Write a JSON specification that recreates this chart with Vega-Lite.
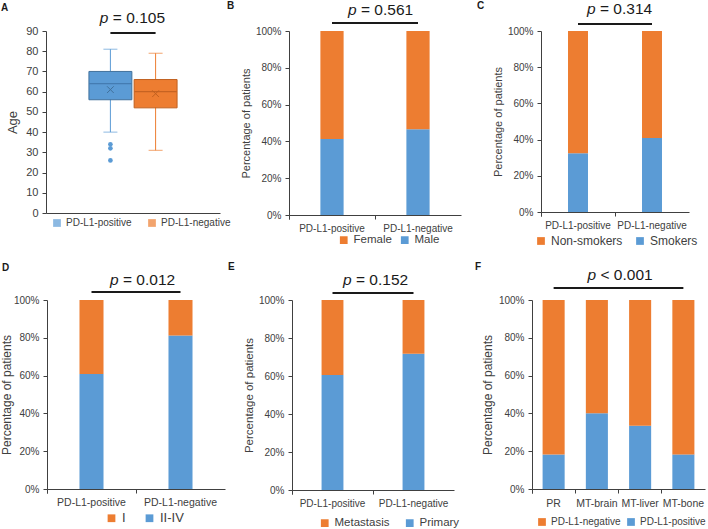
{
  "$schema": "https://vega.github.io/schema/vega-lite/v6.json",
  "padding": {"left": 0, "top": 1, "right": 0, "bottom": 0},
  "autosize": {"type": "pad"},
  "bounds": "flush",
  "spacing": 269,
  "config": {
    "font": "Liberation Sans",
    "view": {"stroke": null},
    "axis": {"domainColor": "#404040", "tickColor": "#404040", "labelColor": "#404040", "titleColor": "#404040", "grid": false, "titleFontWeight": "normal", "tickSize": 4, "labelOverlap": false},
    "axisY": {"labelPadding": 4},
    "legend": {"symbolType": "square", "symbolSize": 60, "symbolStrokeWidth": 0, "labelColor": "#404040", "padding": 0, "labelOffset": 4}
  },
  "resolve": {"scale": {"color": "independent", "fill": "independent", "stroke": "independent"}},
  "vconcat": [
    {
      "spacing": 0,
      "bounds": "flush",
      "resolve": {"scale": {"color": "independent", "fill": "independent", "stroke": "independent"}},
      "hconcat": [
        {
          "width": 174,
          "height": 182,
          "layer": [
            {
              "data": {"values": [
                {"group": "PD-L1-positive", "min": 40, "q1": 56, "median": 64, "q3": 70, "max": 81, "mean": 61},
                {"group": "PD-L1-negative", "min": 31, "q1": 52, "median": 60, "q3": 66, "max": 79, "mean": 59}
              ]},
              "mark": {"type": "rule", "strokeWidth": 1},
              "encoding": {
                "x": {"field": "group", "type": "nominal", "sort": ["PD-L1-positive", "PD-L1-negative"], "scale": {"paddingInner": 0.05, "paddingOuter": 0.95}, "axis": {"title": null, "labels": false, "ticks": false}},
                "y": {"field": "min", "type": "quantitative", "scale": {"domain": [0, 90]}, "axis": {"values": [0, 10, 20, 30, 40, 50, 60, 70, 80, 90], "tickCount": 20, "title": "Age", "titleFontSize": 13, "labelFontSize": 11, "titlePadding": 6}},
                "y2": {"field": "max"},
                "color": {"field": "group", "type": "nominal", "scale": {"domain": ["PD-L1-positive", "PD-L1-negative"], "range": ["#5B9BD5", "#ED7D31"]}, "legend": {"title": null, "orient": "none", "direction": "horizontal", "legendX": 6, "legendY": 187, "labelFontSize": 10, "columnPadding": 15}}
              }
            },
            {
              "data": {"values": [
                {"group": "PD-L1-positive", "min": 40, "q1": 56, "median": 64, "q3": 70, "max": 81, "mean": 61},
                {"group": "PD-L1-negative", "min": 31, "q1": 52, "median": 60, "q3": 66, "max": 79, "mean": 59}
              ]},
              "mark": {"type": "bar", "strokeWidth": 1},
              "encoding": {
                "x": {"field": "group", "type": "nominal", "sort": ["PD-L1-positive", "PD-L1-negative"]},
                "y": {"field": "q1", "type": "quantitative"},
                "y2": {"field": "q3"},
                "color": {"field": "group", "type": "nominal"},
                "stroke": {"field": "group", "type": "nominal", "scale": {"domain": ["PD-L1-positive", "PD-L1-negative"], "range": ["#41719C", "#C0601F"]}, "legend": null}
              }
            },
            {
              "data": {"values": [
                {"group": "PD-L1-positive", "min": 40, "max": 81},
                {"group": "PD-L1-negative", "min": 31, "max": 79}
              ]},
              "mark": {"type": "tick", "thickness": 1, "size": 14},
              "encoding": {
                "x": {"field": "group", "type": "nominal", "sort": ["PD-L1-positive", "PD-L1-negative"]},
                "y": {"field": "min", "type": "quantitative"},
                "color": {"field": "group", "type": "nominal"}
              }
            },
            {
              "data": {"values": [
                {"group": "PD-L1-positive", "min": 40, "max": 81},
                {"group": "PD-L1-negative", "min": 31, "max": 79}
              ]},
              "mark": {"type": "tick", "thickness": 1, "size": 14},
              "encoding": {
                "x": {"field": "group", "type": "nominal", "sort": ["PD-L1-positive", "PD-L1-negative"]},
                "y": {"field": "max", "type": "quantitative"},
                "color": {"field": "group", "type": "nominal"}
              }
            },
            {
              "data": {"values": [
                {"group": "PD-L1-positive", "median": 64},
                {"group": "PD-L1-negative", "median": 60}
              ]},
              "mark": {"type": "tick", "thickness": 1.2, "size": 42},
              "encoding": {
                "x": {"field": "group", "type": "nominal", "sort": ["PD-L1-positive", "PD-L1-negative"]},
                "y": {"field": "median", "type": "quantitative"},
                "fill": {"field": "group", "type": "nominal", "scale": {"domain": ["PD-L1-positive", "PD-L1-negative"], "range": ["#3A6FA3", "#B5581C"]}, "legend": null}
              }
            },
            {
              "data": {"values": [
                {"group": "PD-L1-positive", "mean": 61},
                {"group": "PD-L1-negative", "mean": 59}
              ]},
              "mark": {"type": "point", "shape": "M-1,-1L1,1M-1,1L1,-1", "filled": false, "size": 45, "strokeWidth": 1, "opacity": 1},
              "encoding": {
                "x": {"field": "group", "type": "nominal", "sort": ["PD-L1-positive", "PD-L1-negative"]},
                "y": {"field": "mean", "type": "quantitative"},
                "stroke": {"field": "group", "type": "nominal"}
              }
            },
            {
              "data": {"values": [
                {"group": "PD-L1-positive", "age": 34},
                {"group": "PD-L1-positive", "age": 32},
                {"group": "PD-L1-positive", "age": 26}
              ]},
              "mark": {"type": "point", "filled": true, "size": 22, "opacity": 1},
              "encoding": {
                "x": {"field": "group", "type": "nominal", "sort": ["PD-L1-positive", "PD-L1-negative"]},
                "y": {"field": "age", "type": "quantitative"},
                "color": {"field": "group", "type": "nominal"}
              }
            },
            {
              "data": {"values": [{}]},
              "mark": {"type": "rule", "strokeWidth": 2, "color": "#1a1a1a"},
              "encoding": {"x": {"datum": "PD-L1-positive"}, "x2": {"datum": "PD-L1-negative"}, "y": {"datum": 89}}
            },
            {
              "data": {"values": [{}]},
              "mark": {"type": "text", "text": "p", "fontStyle": "italic", "fontSize": 15.5, "align": "left", "baseline": "alphabetic", "dx": -32, "dy": -8, "color": "#1a1a1a"},
              "encoding": {"x": {"datum": "PD-L1-positive", "bandPosition": 1}, "y": {"datum": 90}}
            },
            {
              "data": {"values": [{}]},
              "mark": {"type": "text", "text": "= 0.105", "fontSize": 15.5, "align": "left", "baseline": "alphabetic", "dx": -19, "dy": -8, "color": "#1a1a1a"},
              "encoding": {"x": {"datum": "PD-L1-positive", "bandPosition": 1}, "y": {"datum": 90}}
            },
            {
              "data": {"values": [{}]},
              "mark": {"type": "text", "text": "A", "fontWeight": "bold", "fontSize": 10, "align": "left", "baseline": "alphabetic", "dx": -88, "dy": -20, "color": "#1a1a1a"},
              "encoding": {"x": {"datum": "PD-L1-positive", "bandPosition": 0}, "y": {"datum": 90}}
            }
          ]
        },
        {"width": 69, "height": 1, "data": {"values": []}, "mark": "point", "encoding": {}},
        {
          "width": 172,
          "height": 184,
          "layer": [
            {
              "data": {"values": [
                {"status": "PD-L1-positive", "sex": "Male", "share": 0.413},
                {"status": "PD-L1-positive", "sex": "Female", "share": 0.587},
                {"status": "PD-L1-negative", "sex": "Male", "share": 0.466},
                {"status": "PD-L1-negative", "sex": "Female", "share": 0.534}
              ]},
              "mark": {"type": "bar", "width": {"band": 0.27}},
              "encoding": {
                "x": {"field": "status", "type": "nominal", "sort": ["PD-L1-positive", "PD-L1-negative"], "scale": {"paddingInner": 0, "paddingOuter": 0}, "axis": {"title": null, "labelAngle": 0, "labelFontSize": 10, "bandPosition": 0, "tickExtra": true, "labelPadding": 4}},
                "y": {"field": "share", "type": "quantitative", "stack": "zero", "scale": {"domain": [0, 1]}, "axis": {"values": [0, 0.2, 0.4, 0.6, 0.8, 1], "tickCount": 20, "format": ".0%", "title": "Percentage of patients", "titleFontSize": 11, "labelFontSize": 10, "titlePadding": 4}},
                "color": {"field": "sex", "type": "nominal", "scale": {"domain": ["Female", "Male"], "range": ["#ED7D31", "#5B9BD5"]}, "legend": {"title": null, "orient": "none", "direction": "horizontal", "legendX": 49, "legendY": 203, "labelFontSize": 11.5, "columnPadding": 7}},
                "order": {"field": "sex", "sort": "descending"}
              }
            },
            {
              "data": {"values": [{}]},
              "mark": {"type": "rule", "strokeWidth": 2, "color": "#1a1a1a"},
              "encoding": {"x": {"datum": "PD-L1-positive"}, "x2": {"datum": "PD-L1-negative"}, "y": {"datum": 1.043}}
            },
            {
              "data": {"values": [{}]},
              "mark": {"type": "text", "text": "p", "fontStyle": "italic", "fontSize": 15.5, "align": "left", "baseline": "alphabetic", "dx": -27, "dy": -16, "color": "#1a1a1a"},
              "encoding": {"x": {"datum": "PD-L1-positive", "bandPosition": 1}, "y": {"datum": 1}}
            },
            {
              "data": {"values": [{}]},
              "mark": {"type": "text", "text": "= 0.561", "fontSize": 15.5, "align": "left", "baseline": "alphabetic", "dx": -14, "dy": -16, "color": "#1a1a1a"},
              "encoding": {"x": {"datum": "PD-L1-positive", "bandPosition": 1}, "y": {"datum": 1}}
            },
            {
              "data": {"values": [{}]},
              "mark": {"type": "text", "text": "B", "fontWeight": "bold", "fontSize": 10, "align": "left", "baseline": "alphabetic", "dx": -62, "dy": -22, "color": "#1a1a1a"},
              "encoding": {"x": {"datum": "PD-L1-positive", "bandPosition": 0}, "y": {"datum": 1}}
            }
          ]
        },
        {"width": 80, "height": 1, "data": {"values": []}, "mark": "point", "encoding": {}},
        {
          "width": 148,
          "height": 181,
          "layer": [
            {
              "data": {"values": [
                {"status": "PD-L1-positive", "smoking": "Smokers", "share": 0.324},
                {"status": "PD-L1-positive", "smoking": "Non-smokers", "share": 0.676},
                {"status": "PD-L1-negative", "smoking": "Smokers", "share": 0.409},
                {"status": "PD-L1-negative", "smoking": "Non-smokers", "share": 0.591}
              ]},
              "mark": {"type": "bar", "width": {"band": 0.27}},
              "encoding": {
                "x": {"field": "status", "type": "nominal", "sort": ["PD-L1-positive", "PD-L1-negative"], "scale": {"paddingInner": 0, "paddingOuter": 0}, "axis": {"title": null, "labelAngle": 0, "labelFontSize": 10, "bandPosition": 0, "tickExtra": true, "labelPadding": 4}},
                "y": {"field": "share", "type": "quantitative", "stack": "zero", "scale": {"domain": [0, 1]}, "axis": {"values": [0, 0.2, 0.4, 0.6, 0.8, 1], "tickCount": 20, "format": ".0%", "title": "Percentage of patients", "titleFontSize": 11, "labelFontSize": 10, "titlePadding": 4}},
                "color": {"field": "smoking", "type": "nominal", "scale": {"domain": ["Non-smokers", "Smokers"], "range": ["#ED7D31", "#5B9BD5"]}, "legend": {"title": null, "orient": "none", "direction": "horizontal", "legendX": -6, "legendY": 204, "labelFontSize": 12, "columnPadding": 11}},
                "order": {"field": "smoking", "sort": "descending"}
              }
            },
            {
              "data": {"values": [{}]},
              "mark": {"type": "rule", "strokeWidth": 2, "color": "#1a1a1a"},
              "encoding": {"x": {"datum": "PD-L1-positive"}, "x2": {"datum": "PD-L1-negative"}, "y": {"datum": 1.039}}
            },
            {
              "data": {"values": [{}]},
              "mark": {"type": "text", "text": "p", "fontStyle": "italic", "fontSize": 15.5, "align": "left", "baseline": "alphabetic", "dx": -28, "dy": -17, "color": "#1a1a1a"},
              "encoding": {"x": {"datum": "PD-L1-positive", "bandPosition": 1}, "y": {"datum": 1}}
            },
            {
              "data": {"values": [{}]},
              "mark": {"type": "text", "text": "= 0.314", "fontSize": 15.5, "align": "left", "baseline": "alphabetic", "dx": -15, "dy": -17, "color": "#1a1a1a"},
              "encoding": {"x": {"datum": "PD-L1-positive", "bandPosition": 1}, "y": {"datum": 1}}
            },
            {
              "data": {"values": [{}]},
              "mark": {"type": "text", "text": "C", "fontWeight": "bold", "fontSize": 10, "align": "left", "baseline": "alphabetic", "dx": -64, "dy": -22, "color": "#1a1a1a"},
              "encoding": {"x": {"datum": "PD-L1-positive", "bandPosition": 0}, "y": {"datum": 1}}
            }
          ]
        }
      ]
    },
    {
      "spacing": 0,
      "bounds": "flush",
      "resolve": {"scale": {"color": "independent", "fill": "independent", "stroke": "independent"}},
      "hconcat": [
        {"width": 1, "height": 1, "data": {"values": []}, "mark": "point", "encoding": {}},
        {
          "width": 178,
          "height": 189,
          "layer": [
            {
              "data": {"values": [
                {"status": "PD-L1-positive", "stage": "II-IV", "share": 0.609},
                {"status": "PD-L1-positive", "stage": "I", "share": 0.391},
                {"status": "PD-L1-negative", "stage": "II-IV", "share": 0.812},
                {"status": "PD-L1-negative", "stage": "I", "share": 0.188}
              ]},
              "mark": {"type": "bar", "width": {"band": 0.27}},
              "encoding": {
                "x": {"field": "status", "type": "nominal", "sort": ["PD-L1-positive", "PD-L1-negative"], "scale": {"paddingInner": 0, "paddingOuter": 0}, "axis": {"title": null, "labelAngle": 0, "labelFontSize": 10.5, "bandPosition": 0, "tickExtra": true, "labelPadding": 4}},
                "y": {"field": "share", "type": "quantitative", "stack": "zero", "scale": {"domain": [0, 1]}, "axis": {"values": [0, 0.2, 0.4, 0.6, 0.8, 1], "tickCount": 20, "format": ".0%", "title": "Percentage of patients", "titleFontSize": 12, "labelFontSize": 10, "titlePadding": 0}},
                "color": {"field": "stage", "type": "nominal", "scale": {"domain": ["I", "II-IV"], "range": ["#ED7D31", "#5B9BD5"]}, "legend": {"title": null, "orient": "none", "direction": "horizontal", "legendX": 58, "legendY": 211.5, "labelFontSize": 13, "columnPadding": 17}},
                "order": {"field": "stage", "sort": "descending"}
              }
            },
            {
              "data": {"values": [{}]},
              "mark": {"type": "rule", "strokeWidth": 2, "color": "#1a1a1a"},
              "encoding": {"x": {"datum": "PD-L1-positive"}, "x2": {"datum": "PD-L1-negative"}, "y": {"datum": 1.042}}
            },
            {
              "data": {"values": [{}]},
              "mark": {"type": "text", "text": "p", "fontStyle": "italic", "fontSize": 15.5, "align": "left", "baseline": "alphabetic", "dx": -26, "dy": -15, "color": "#1a1a1a"},
              "encoding": {"x": {"datum": "PD-L1-positive", "bandPosition": 1}, "y": {"datum": 1}}
            },
            {
              "data": {"values": [{}]},
              "mark": {"type": "text", "text": "= 0.012", "fontSize": 15.5, "align": "left", "baseline": "alphabetic", "dx": -13, "dy": -15, "color": "#1a1a1a"},
              "encoding": {"x": {"datum": "PD-L1-positive", "bandPosition": 1}, "y": {"datum": 1}}
            },
            {
              "data": {"values": [{}]},
              "mark": {"type": "text", "text": "D", "fontWeight": "bold", "fontSize": 10, "align": "left", "baseline": "alphabetic", "dx": -45, "dy": -29, "color": "#1a1a1a"},
              "encoding": {"x": {"datum": "PD-L1-positive", "bandPosition": 0}, "y": {"datum": 1}}
            }
          ]
        },
        {"width": 67, "height": 1, "data": {"values": []}, "mark": "point", "encoding": {}},
        {
          "width": 162,
          "height": 190,
          "layer": [
            {
              "data": {"values": [
                {"status": "PD-L1-positive", "site": "Primary", "share": 0.605},
                {"status": "PD-L1-positive", "site": "Metastasis", "share": 0.395},
                {"status": "PD-L1-negative", "site": "Primary", "share": 0.717},
                {"status": "PD-L1-negative", "site": "Metastasis", "share": 0.283}
              ]},
              "mark": {"type": "bar", "width": {"band": 0.27}},
              "encoding": {
                "x": {"field": "status", "type": "nominal", "sort": ["PD-L1-positive", "PD-L1-negative"], "scale": {"paddingInner": 0, "paddingOuter": 0}, "axis": {"title": null, "labelAngle": 0, "labelFontSize": 10, "bandPosition": 0, "tickExtra": true, "labelPadding": 4}},
                "y": {"field": "share", "type": "quantitative", "stack": "zero", "scale": {"domain": [0, 1]}, "axis": {"values": [0, 0.2, 0.4, 0.6, 0.8, 1], "tickCount": 20, "format": ".0%", "title": "Percentage of patients", "titleFontSize": 11.5, "labelFontSize": 10, "titlePadding": 4}},
                "color": {"field": "site", "type": "nominal", "scale": {"domain": ["Metastasis", "Primary"], "range": ["#ED7D31", "#5B9BD5"]}, "legend": {"title": null, "orient": "none", "direction": "horizontal", "legendX": 27, "legendY": 217, "labelFontSize": 11.5, "columnPadding": 14}},
                "order": {"field": "site", "sort": "descending"}
              }
            },
            {
              "data": {"values": [{}]},
              "mark": {"type": "rule", "strokeWidth": 2, "color": "#1a1a1a"},
              "encoding": {"x": {"datum": "PD-L1-positive"}, "x2": {"datum": "PD-L1-negative"}, "y": {"datum": 1.037}}
            },
            {
              "data": {"values": [{}]},
              "mark": {"type": "text", "text": "p", "fontStyle": "italic", "fontSize": 15.5, "align": "left", "baseline": "alphabetic", "dx": -30, "dy": -15, "color": "#1a1a1a"},
              "encoding": {"x": {"datum": "PD-L1-positive", "bandPosition": 1}, "y": {"datum": 1}}
            },
            {
              "data": {"values": [{}]},
              "mark": {"type": "text", "text": "= 0.152", "fontSize": 15.5, "align": "left", "baseline": "alphabetic", "dx": -17, "dy": -15, "color": "#1a1a1a"},
              "encoding": {"x": {"datum": "PD-L1-positive", "bandPosition": 1}, "y": {"datum": 1}}
            },
            {
              "data": {"values": [{}]},
              "mark": {"type": "text", "text": "E", "fontWeight": "bold", "fontSize": 10, "align": "left", "baseline": "alphabetic", "dx": -64, "dy": -30, "color": "#1a1a1a"},
              "encoding": {"x": {"datum": "PD-L1-positive", "bandPosition": 0}, "y": {"datum": 1}}
            }
          ]
        },
        {"width": 78, "height": 1, "data": {"values": []}, "mark": "point", "encoding": {}},
        {
          "width": 173,
          "height": 189,
          "layer": [
            {
              "data": {"values": [
                {"site": "PR", "status": "PD-L1-positive", "share": 0.183},
                {"site": "PR", "status": "PD-L1-negative", "share": 0.817},
                {"site": "MT-brain", "status": "PD-L1-positive", "share": 0.401},
                {"site": "MT-brain", "status": "PD-L1-negative", "share": 0.599},
                {"site": "MT-liver", "status": "PD-L1-positive", "share": 0.334},
                {"site": "MT-liver", "status": "PD-L1-negative", "share": 0.666},
                {"site": "MT-bone", "status": "PD-L1-positive", "share": 0.183},
                {"site": "MT-bone", "status": "PD-L1-negative", "share": 0.817}
              ]},
              "mark": {"type": "bar", "width": {"band": 0.51}},
              "encoding": {
                "x": {"field": "site", "type": "nominal", "sort": ["PR", "MT-brain", "MT-liver", "MT-bone"], "scale": {"paddingInner": 0, "paddingOuter": 0}, "axis": {"title": null, "labelAngle": 0, "labelFontSize": 10.5, "bandPosition": 0, "tickExtra": true, "labelPadding": 5}},
                "y": {"field": "share", "type": "quantitative", "stack": "zero", "scale": {"domain": [0, 1]}, "axis": {"values": [0, 0.2, 0.4, 0.6, 0.8, 1], "tickCount": 20, "format": ".0%", "title": "Percentage of patients", "titleFontSize": 12, "labelFontSize": 10, "titlePadding": 4}},
                "color": {"field": "status", "type": "nominal", "scale": {"domain": ["PD-L1-negative", "PD-L1-positive"], "range": ["#ED7D31", "#5B9BD5"]}, "legend": {"title": null, "orient": "none", "direction": "horizontal", "legendX": 5, "legendY": 217, "labelFontSize": 10, "columnPadding": 5}},
                "order": {"field": "status", "sort": "descending"}
              }
            },
            {
              "data": {"values": [{}]},
              "mark": {"type": "rule", "strokeWidth": 2, "color": "#1a1a1a"},
              "encoding": {"x": {"datum": "PR"}, "x2": {"datum": "MT-bone"}, "y": {"datum": 1.063}}
            },
            {
              "data": {"values": [{}]},
              "mark": {"type": "text", "text": "p", "fontStyle": "italic", "fontSize": 15.5, "align": "left", "baseline": "alphabetic", "dx": -31, "dy": -20, "color": "#1a1a1a"},
              "encoding": {"x": {"datum": "MT-brain", "bandPosition": 1}, "y": {"datum": 1}}
            },
            {
              "data": {"values": [{}]},
              "mark": {"type": "text", "text": "< 0.001", "fontSize": 15.5, "align": "left", "baseline": "alphabetic", "dx": -18, "dy": -20, "color": "#1a1a1a"},
              "encoding": {"x": {"datum": "MT-brain", "bandPosition": 1}, "y": {"datum": 1}}
            },
            {
              "data": {"values": [{}]},
              "mark": {"type": "text", "text": "F", "fontWeight": "bold", "fontSize": 10, "align": "left", "baseline": "alphabetic", "dx": -57, "dy": -30, "color": "#1a1a1a"},
              "encoding": {"x": {"datum": "PR", "bandPosition": 0}, "y": {"datum": 1}}
            }
          ]
        }
      ]
    }
  ]
}
